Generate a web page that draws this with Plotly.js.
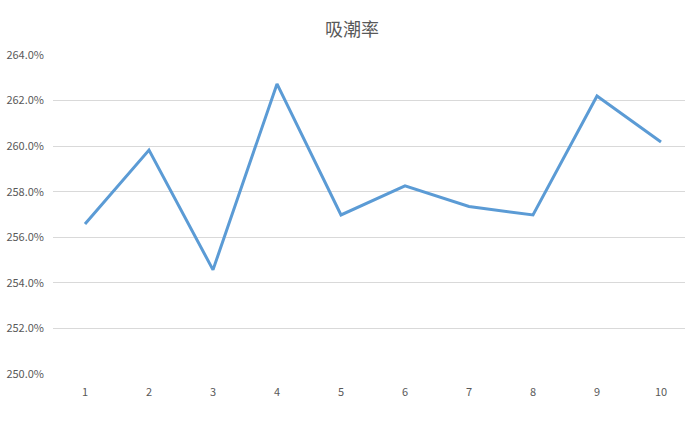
<!DOCTYPE html>
<html>
<head>
<meta charset="utf-8">
<script src="https://cdn.plot.ly/plotly-3.0.1.min.js"></script>
<style>html,body{margin:0;padding:0;background:#fff;}#chart{width:685px;height:423px;}</style>
</head>
<body>
<div id="chart"></div>
<script>
const categories = [1, 2, 3, 4, 5, 6, 7, 8, 9, 10];
const absorption = [2.5658, 2.5983, 2.5457, 2.6273, 2.5698, 2.5826, 2.5735, 2.5698, 2.6220, 2.6018];
const yTicks = [2.50, 2.52, 2.54, 2.56, 2.58, 2.60, 2.62, 2.64];
const titleText = '吸潮率';

const font = '"Noto Sans CJK SC", "Microsoft YaHei", sans-serif';
Plotly.newPlot('chart', [{
  x: categories,
  y: absorption,
  type: 'scatter',
  mode: 'lines',
  line: {color: '#5B9BD5', width: 3},
  hoverinfo: 'skip'
}], {
  width: 685, height: 423,
  margin: {l: 53, r: 0, t: 55, b: 49},
  paper_bgcolor: '#fff', plot_bgcolor: '#fff',
  title: {text: titleText, x: 0.514, xanchor: 'center', y: 0.93, yanchor: 'middle',
          font: {family: font, size: 18, color: '#595959'}},
  showlegend: false,
  xaxis: {
    range: [0.5, 10.375], tickvals: categories, ticktext: categories.map(String),
    showgrid: false, zeroline: false, showline: false, ticks: '',
    ticklabelstandoff: 10,
    tickfont: {family: font, size: 11, color: '#595959'}
  },
  yaxis: {
    range: [2.50, 2.64], tickvals: yTicks, tickformat: '.1%',
    showgrid: true, gridcolor: '#D9D9D9', gridwidth: 1,
    zeroline: false, showline: false, ticks: '',
    ticklabelstandoff: 8,
    tickfont: {family: font, size: 11, color: '#595959'}
  }
}, {staticPlot: true});
</script>
</body>
</html>
